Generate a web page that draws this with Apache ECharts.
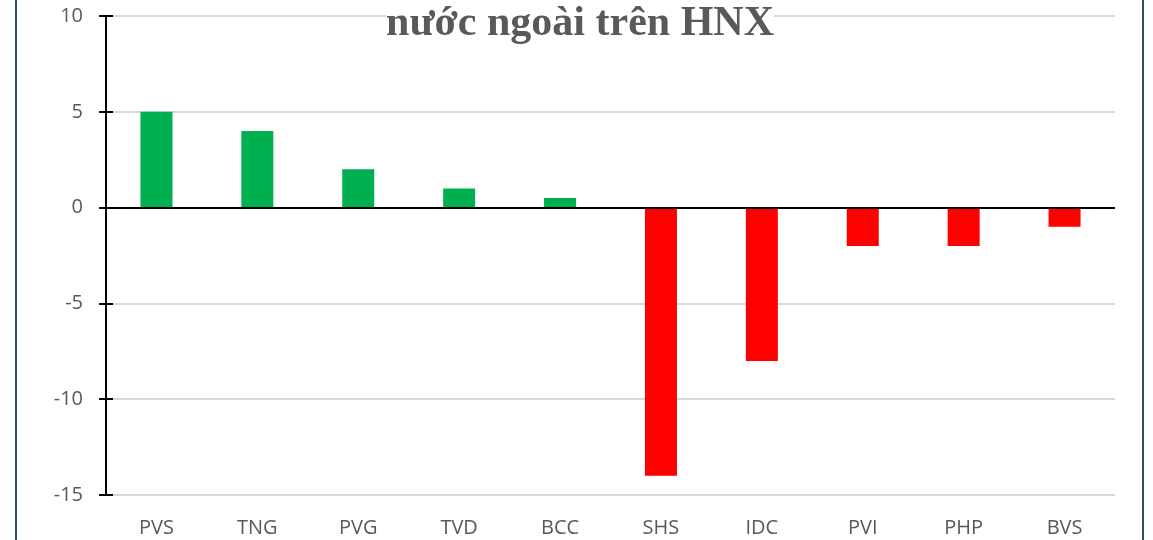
<!DOCTYPE html>
<html>
<head>
<meta charset="utf-8">
<script src="https://cdn.jsdelivr.net/npm/echarts@6/dist/echarts.min.js"></script>
<style>html,body{margin:0;padding:0;background:#fff;}#c{width:1153px;height:540px;}</style>
</head>
<body>
<div id="c"></div>
<script>
const categories = ['PVS','TNG','PVG','TVD','BCC','SHS','IDC','PVI','PHP','BVS'];
const values = [5, 4, 2, 1, 0.5, -14, -8, -2, -2, -1];
const yTicks = [10, 5, 0, -5, -10, -15];
const titleText = 'nước ngoài trên HNX';

const chart = echarts.init(document.getElementById('c'));
const grid = {left: 106, right: 38, top: 16, bottom: 45};
chart.setOption({
  animation: false,
  backgroundColor: '#fff',
  grid: grid,
  graphic: [
    {type: 'rect', shape: {x: 16, y: -10, width: 1127, height: 560}, style: {fill: 'none', stroke: '#2e4a7a', lineWidth: 2}, z: 100},
    {type: 'text', x: 580, y: 24, style: {text: titleText, font: 'bold 42px "Liberation Serif", "DejaVu Serif", serif', fill: '#595959', textAlign: 'center', textVerticalAlign: 'middle', backgroundColor: '#fff'}, z: 50}
  ],
  xAxis: {
    type: 'category', data: categories,
    axisLine: {show: false, onZero: false},
    axisTick: {show: false},
    axisLabel: {color: '#595959', fontSize: 20, fontFamily: '"Open Sans", "Liberation Sans", sans-serif', margin: 23}
  },
  yAxis: [{
    type: 'value', min: -15, max: 10, interval: 5,
    axisLine: {show: true, lineStyle: {color: '#000', width: 2}},
    axisTick: {show: true, length: 7, lineStyle: {color: '#000', width: 2}},
    axisLabel: {color: '#595959', fontSize: 20, fontFamily: '"Open Sans", "Liberation Sans", sans-serif', margin: 23},
    splitLine: {show: true, lineStyle: {color: '#d9d9d9', width: 2}}
  }, {
    type: 'value', min: -15, max: 10, interval: 5, position: 'left',
    axisLine: {show: false},
    axisTick: {show: true, inside: true, length: 7, lineStyle: {color: '#000', width: 2}},
    axisLabel: {show: false},
    splitLine: {show: false}
  }],
  series: [{
    type: 'bar', data: values, barWidth: 32,
    itemStyle: {color: p => p.value >= 0 ? '#00b050' : '#ff0000'},
    markLine: {
      silent: true, symbol: 'none', label: {show: false},
      lineStyle: {color: '#000', width: 2, type: 'solid'},
      data: [{yAxis: 0}]
    }
  }]
});
</script>
</body>
</html>
